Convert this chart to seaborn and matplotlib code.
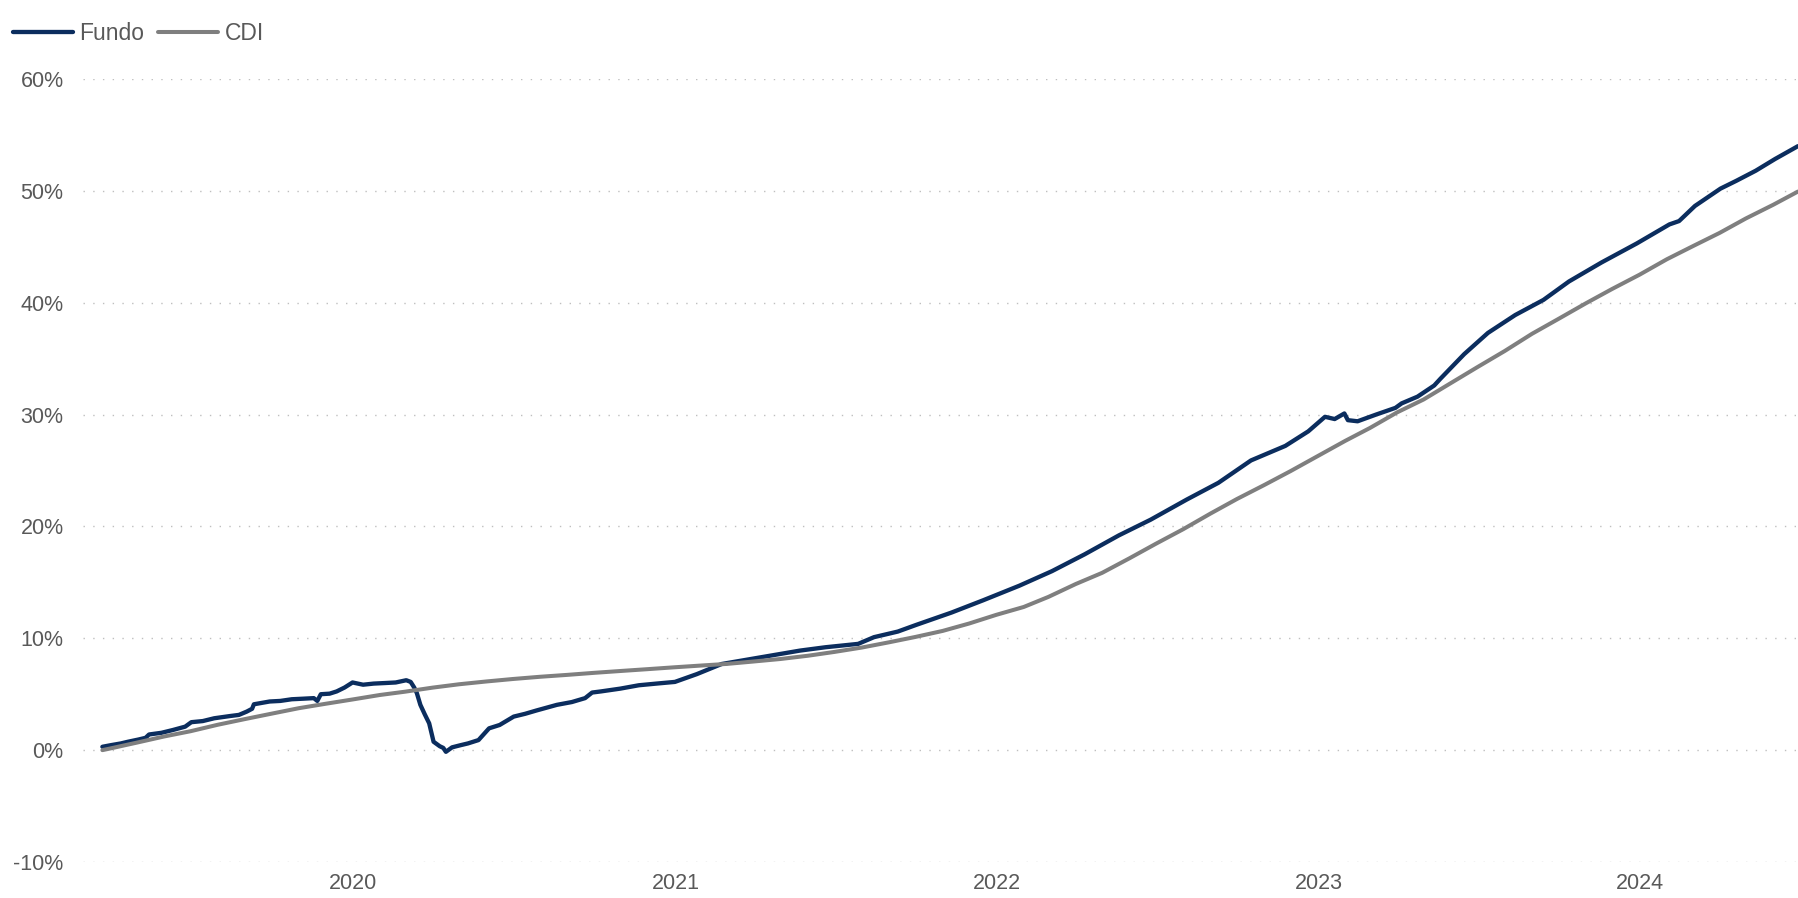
import pandas as pd
import numpy as np
import seaborn as sns
import matplotlib.pyplot as plt
import matplotlib.ticker as mtick

# Fundo - cumulative return (%)
fundo_dates = [
    "2019-03-22", "2019-04-01", "2019-04-12", "2019-04-20", "2019-05-02", "2019-05-10",
    "2019-05-14", "2019-05-28", "2019-06-10", "2019-06-24", "2019-07-01", "2019-07-14",
    "2019-07-27", "2019-08-14", "2019-08-24", "2019-09-02", "2019-09-08", "2019-09-10",
    "2019-09-28", "2019-10-10", "2019-10-23", "2019-11-05", "2019-11-17", "2019-11-21",
    "2019-11-25", "2019-12-05", "2019-12-13", "2019-12-22", "2019-12-31", "2020-01-12",
    "2020-01-24", "2020-02-06", "2020-02-18", "2020-03-01", "2020-03-06", "2020-03-10",
    "2020-03-13", "2020-03-17", "2020-03-22", "2020-03-27", "2020-04-01", "2020-04-08",
    "2020-04-12", "2020-04-15", "2020-04-22", "2020-05-02", "2020-05-10", "2020-05-22",
    "2020-06-03", "2020-06-15", "2020-07-01", "2020-07-14", "2020-07-27", "2020-08-19",
    "2020-09-05", "2020-09-20", "2020-09-28", "2020-10-08", "2020-10-30", "2020-11-20",
    "2020-12-10", "2020-12-31", "2021-01-25", "2021-02-22", "2021-03-31", "2021-05-22",
    "2021-06-20", "2021-07-27", "2021-08-14", "2021-09-10", "2021-10-01", "2021-11-10",
    "2021-12-16", "2022-01-26", "2022-03-04", "2022-04-10", "2022-05-19", "2022-06-24",
    "2022-08-04", "2022-09-09", "2022-10-16", "2022-11-24", "2022-12-20", "2023-01-08",
    "2023-01-19", "2023-01-30", "2023-02-03", "2023-02-14", "2023-03-07", "2023-03-29",
    "2023-04-05", "2023-04-23", "2023-05-12", "2023-05-19", "2023-06-15", "2023-07-12",
    "2023-08-12", "2023-09-13", "2023-10-12", "2023-11-18", "2023-12-28", "2024-02-03",
    "2024-02-14", "2024-03-03", "2024-04-01", "2024-04-19", "2024-05-11", "2024-06-02",
    "2024-06-28",
]
fundo_values = [
    0.30, 0.45, 0.60, 0.75, 0.95, 1.10,
    1.40, 1.55, 1.80, 2.10, 2.50, 2.60,
    2.85, 3.05, 3.15, 3.45, 3.70, 4.10,
    4.35, 4.40, 4.55, 4.60, 4.65, 4.40,
    5.00, 5.05, 5.25, 5.60, 6.05, 5.85,
    5.95, 6.00, 6.05, 6.25, 6.10, 5.60,
    5.10, 4.05, 3.20, 2.40, 0.75, 0.35,
    0.20, -0.15, 0.25, 0.45, 0.60, 0.90,
    1.95, 2.25, 3.00, 3.25, 3.55, 4.05,
    4.30, 4.65, 5.15, 5.25, 5.50, 5.80,
    5.95, 6.10, 6.80, 7.70, 8.20, 8.90,
    9.20, 9.50, 10.10, 10.60, 11.20, 12.30,
    13.40, 14.70, 16.00, 17.50, 19.20, 20.60,
    22.40, 23.90, 25.90, 27.20, 28.50, 29.80,
    29.60, 30.10, 29.50, 29.40, 30.00, 30.60,
    31.00, 31.60, 32.60, 33.20, 35.40, 37.30,
    38.90, 40.25, 41.90, 43.60, 45.30, 47.00,
    47.30, 48.65, 50.20, 50.90, 51.80, 52.85,
    54.00,
]

# CDI - cumulative return (%) at month ends
cdi_dates = [
    "2019-03-22", "2019-03-31", "2019-04-30", "2019-05-31", "2019-06-30", "2019-07-31",
    "2019-08-31", "2019-09-30", "2019-10-31", "2019-11-30", "2019-12-31",
    "2020-01-31", "2020-02-29", "2020-03-31", "2020-04-30", "2020-05-31", "2020-06-30",
    "2020-07-31", "2020-08-31", "2020-09-30", "2020-10-31", "2020-11-30", "2020-12-31",
    "2021-01-31", "2021-02-28", "2021-03-31", "2021-04-30", "2021-05-31", "2021-06-30",
    "2021-07-31", "2021-08-31", "2021-09-30", "2021-10-31", "2021-11-30", "2021-12-31",
    "2022-01-31", "2022-02-28", "2022-03-31", "2022-04-30", "2022-05-31", "2022-06-30",
    "2022-07-31", "2022-08-31", "2022-09-30", "2022-10-31", "2022-11-30", "2022-12-31",
    "2023-01-31", "2023-02-28", "2023-03-31", "2023-04-30", "2023-05-31", "2023-06-30",
    "2023-07-31", "2023-08-31", "2023-09-30", "2023-10-31", "2023-11-30", "2023-12-31",
    "2024-01-31", "2024-02-29", "2024-03-31", "2024-04-30", "2024-05-31", "2024-06-28",
]
cdi_values = [
    0.00, 0.15, 0.67, 1.22, 1.69, 2.27,
    2.78, 3.26, 3.75, 4.14, 4.53,
    4.93, 5.23, 5.59, 5.89, 6.14, 6.36,
    6.56, 6.73, 6.91, 7.08, 7.24, 7.41,
    7.57, 7.71, 7.93, 8.15, 8.44, 8.78,
    9.17, 9.64, 10.12, 10.66, 11.32, 12.10,
    12.80, 13.70, 14.85, 15.85, 17.15, 18.45,
    19.75, 21.15, 22.45, 23.70, 24.95, 26.30,
    27.65, 28.80, 30.20, 31.35, 32.82, 34.24,
    35.68, 37.22, 38.55, 39.94, 41.23, 42.50,
    43.88, 45.03, 46.24, 47.54, 48.76, 49.94,
]

year_ticks = ["2020", "2021", "2022", "2023", "2024"]
y_ticks = [-10, 0, 10, 20, 30, 40, 50, 60]

fundo = pd.DataFrame({"Data": pd.to_datetime(fundo_dates), "Retorno": fundo_values})
cdi = pd.DataFrame({"Data": pd.to_datetime(cdi_dates), "Retorno": cdi_values})

sns.set_theme(style="white")
plt.rcParams["font.family"] = ["Liberation Sans", "DejaVu Sans"]
txt = "#595959"

fig = plt.figure(figsize=(17.98, 8.98), dpi=100)
ax = fig.add_axes([83 / 1798, 36 / 898, 1 - 83 / 1798, (862 - 79) / 898])

sns.lineplot(data=fundo, x="Data", y="Retorno", ax=ax, color="#0B2D5E",
             linewidth=3.1, label="Fundo", zorder=3)
sns.lineplot(data=cdi, x="Data", y="Retorno", ax=ax, color="#7F7F7F",
             linewidth=2.9, label="CDI", zorder=4)

ax.set_ylim(-10, 60)
ax.set_xlim(pd.Timestamp("2019-02-28"), pd.Timestamp("2024-06-28"))
ax.set_yticks(y_ticks)
ax.yaxis.set_major_formatter(mtick.FuncFormatter(lambda v, p: f"{v:.0f}%"))
ax.set_xticks(pd.to_datetime([y + "-01-01" for y in year_ticks]))
ax.set_xticklabels(year_ticks)

ax.yaxis.grid(True, linestyle=(0, (1, 6)), color="#BFBFBF", linewidth=1.0)
ax.xaxis.grid(False)
for s in ax.spines.values():
    s.set_visible(False)
ax.tick_params(axis="both", length=0, labelsize=15.5, labelcolor=txt)
ax.tick_params(axis="y", pad=14)
ax.tick_params(axis="x", pad=8)
ax.set_xlabel("")
ax.set_ylabel("")

handles, labels = ax.get_legend_handles_labels()
ax.get_legend().remove()
fig.legend(handles, labels, loc="center left", bbox_to_anchor=(13 / 1798, 1 - 34 / 898),
           ncol=2, frameon=False, borderpad=0, borderaxespad=0, handlelength=2.6,
           handletextpad=0.3, columnspacing=0.6, fontsize=16.5, labelcolor=txt)

fig.savefig("out.png", dpi=100)
